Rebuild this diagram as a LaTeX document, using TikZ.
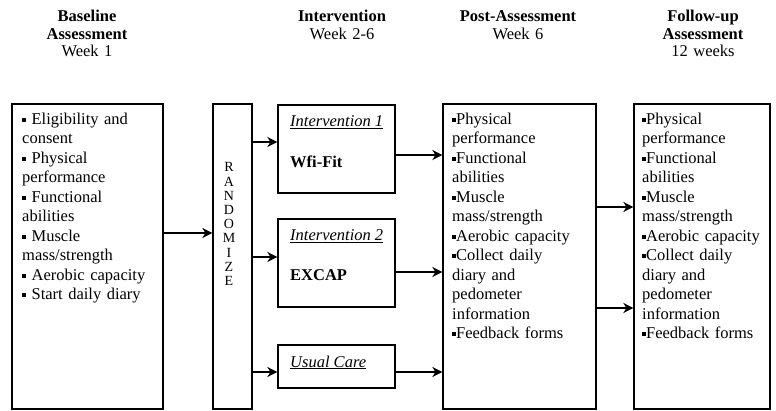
\documentclass[tikz,border=0pt]{standalone}
\usepackage{fontspec}
\setmainfont{Liberation Serif}
\usetikzlibrary{arrows.meta}
% small square bullet used in the lists
\newcommand\blt{\raisebox{0.17em}{\rule{0.24em}{0.24em}}}

\begin{document}
\begin{tikzpicture}[x=1pt,y=-1pt,
  box/.style={draw, line width=1.2pt, inner sep=0pt},
  arr/.style={line width=2.6pt, -{Stealth[length=10pt,width=10pt,inset=3pt]}},
  body/.style={font=\fontsize{16.5}{19.5}\selectfont, align=left, text width=150pt, inner sep=0pt, anchor=base west},
  head/.style={font=\fontsize{16.5}{17.5}\selectfont, align=center, text width=160pt, inner sep=0pt, anchor=base},
  arm/.style={font=\fontsize{16.5}{19.5}\selectfont, inner sep=0pt, anchor=base west},
]
\useasboundingbox (0,0) rectangle (776,411);

% column headings
\node[head] (h1) at (87,22) {\textbf{Baseline}\\\textbf{Assessment}\\Week 1};
\node[head] (h2) at (342,22) {\textbf{Intervention}\\Week 2-6};
\node[head] (h3) at (518,22) {\textbf{Post-Assessment}\\Week 6};
\node[head] (h4) at (703,22) {\textbf{Follow-up}\\\textbf{Assessment}\\12 weeks};

% boxes
\node[box, minimum width=151pt, minimum height=305pt] (base) at (87.5,256.5) {};
\node[box, minimum width=39pt,  minimum height=305pt] (rand) at (232.5,256.5) {};
\node[box, minimum width=117pt, minimum height=88pt]  (int1) at (336.5,149) {};
\node[box, minimum width=117pt, minimum height=88pt]  (int2) at (336.5,263) {};
\node[box, minimum width=117pt, minimum height=43pt]  (uc)   at (336.5,366.5) {};
\node[box, minimum width=153pt, minimum height=305pt] (post) at (519.5,256.5) {};
\node[box, minimum width=136pt, minimum height=305pt] (foll) at (702,256.5) {};

% box contents
\node[body] (baset) at (22,124.5) {\blt{} Eligibility and\\consent\\\blt{} Physical\\performance\\\blt{} Functional\\abilities\\\blt{} Muscle\\mass/strength\\\blt{} Aerobic capacity\\\blt{} Start daily diary};

\node[font=\fontsize{14}{14.2}\selectfont, align=center, text width=20pt, inner sep=0pt, anchor=base] (randt) at (229,172)
  {R\\A\\N\\D\\O\\M\\I\\Z\\E};

\node[arm] (i1a) at (290,127) {\textit{\underline{Intervention 1}}};
\node[arm] (i1b) at (290,167.5) {\textbf{Wfi-Fit}};
\node[arm] (i2a) at (290,241) {\textit{\underline{Intervention 2}}};
\node[arm] (i2b) at (290,281) {\textbf{EXCAP}};
\node[arm] (uca) at (290,367) {\textit{\underline{Usual Care}}};

\node[body] (postt) at (452,124.5) {\blt Physical\\performance\\\blt Functional\\abilities\\\blt Muscle\\mass/strength\\\blt Aerobic capacity\\\blt Collect daily\\diary and\\pedometer\\information\\\blt Feedback forms};

\node[body] (follt) at (642,124.5) {\blt Physical\\performance\\\blt Functional\\abilities\\\blt Muscle\\mass/strength\\\blt Aerobic capacity\\\blt Collect daily\\diary and\\pedometer\\information\\\blt Feedback forms};

% connectors
\draw[arr] (base.east |- 0,233) -- (rand.west |- 0,233);
\draw[arr] (rand.east |- 0,142) -- (int1.west |- 0,142);
\draw[arr] (rand.east |- 0,257) -- (int2.west |- 0,257);
\draw[arr] (rand.east |- 0,372) -- (uc.west |- 0,372);
\draw[arr] (int1.east |- 0,155) -- (post.west |- 0,155);
\draw[arr] (int2.east |- 0,272) -- (post.west |- 0,272);
\draw[arr] (uc.east |- 0,372) -- (post.west |- 0,372);
\draw[arr] (post.east |- 0,207) -- (foll.west |- 0,207);
\draw[arr] (post.east |- 0,308) -- (foll.west |- 0,308);
\end{tikzpicture}
\end{document}
